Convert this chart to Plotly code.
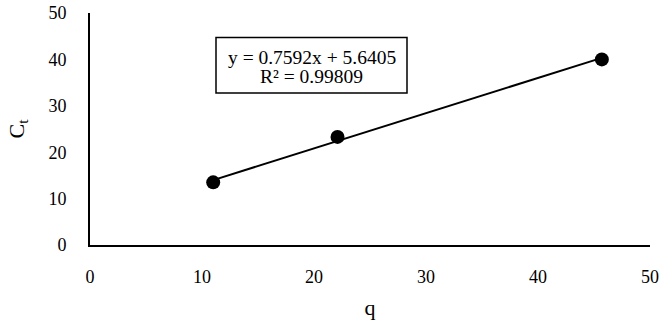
import plotly.graph_objects as go

q_values = [11.0, 22.1, 45.7]
ct_values = [13.5, 23.3, 40.0]
slope = 0.7592
intercept = 5.6405
r_squared = 0.99809
x_ticks = [0, 10, 20, 30, 40, 50]
y_ticks = [0, 10, 20, 30, 40, 50]

trend_x = [min(q_values), max(q_values)]
trend_y = [slope * v + intercept for v in trend_x]

FONT = "Liberation Serif, Times New Roman, serif"

fig = go.Figure()
fig.add_trace(go.Scatter(x=trend_x, y=trend_y, mode="lines",
                         line=dict(color="black", width=2), showlegend=False,
                         cliponaxis=False, hoverinfo="skip"))
fig.add_trace(go.Scatter(x=q_values, y=ct_values, mode="markers",
                         marker=dict(color="black", size=14), showlegend=False,
                         cliponaxis=False))

W, H = 666, 325
L, T = 90, 13
pw, ph = 560, 232
R, B = W - L - pw, H - T - ph

def px(xs):
    return (xs - L) / pw

def py(ys):
    return (T + ph - ys) / ph

fig.add_shape(type="rect", xref="paper", yref="paper",
              x0=px(216), x1=px(407), y0=py(93), y1=py(37.5),
              line=dict(color="black", width=1.5), fillcolor="white")
fig.add_annotation(xref="paper", yref="paper", x=px(311.5), y=py(57.5),
                   text=f"y = {slope}x + {intercept}", showarrow=False,
                   font=dict(family=FONT, size=19.5, color="black"),
                   xanchor="center", yanchor="middle")
fig.add_annotation(xref="paper", yref="paper", x=px(311.5), y=py(76.5),
                   text=f"R² = {r_squared}", showarrow=False,
                   font=dict(family=FONT, size=19.5, color="black"),
                   xanchor="center", yanchor="middle")

axis_common = dict(showgrid=False, zeroline=False, showline=True,
                   linecolor="black", linewidth=2, ticks="", automargin=False,
                   ticklabeloverflow="allow",
                   tickfont=dict(family=FONT, size=18, color="black"))

fig.update_layout(
    width=W, height=H,
    margin=dict(l=L, r=R, t=T, b=B, autoexpand=False),
    paper_bgcolor="white", plot_bgcolor="white",
    xaxis=dict(range=[0, 50], tickvals=x_ticks, ticklabelstandoff=14,
               title=dict(text="q", font=dict(family=FONT, size=22, color="black"), standoff=14),
               **axis_common),
    yaxis=dict(range=[0, 50], tickvals=y_ticks, ticklabelstandoff=18,
               title=dict(text="C<sub>t</sub>", font=dict(family=FONT, size=22, color="black"), standoff=18),
               **axis_common),
)

fig.write_html("out.html", config={"displayModeBar": False},
               post_script="document.body.style.margin='0';")
